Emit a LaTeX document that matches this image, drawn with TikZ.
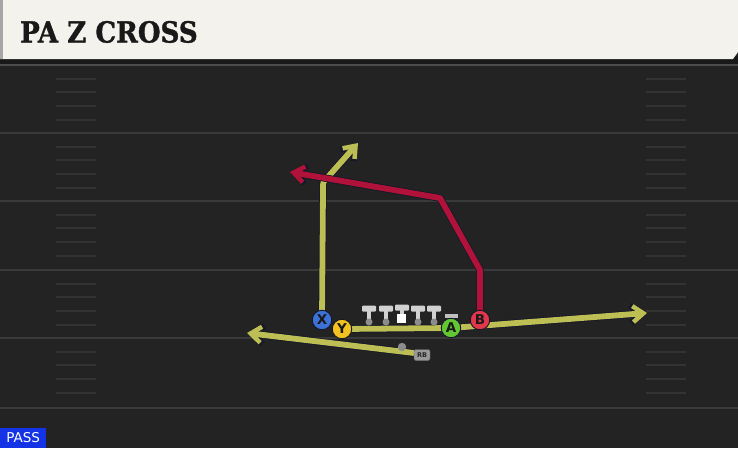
\documentclass[tikz,border=0pt]{standalone}
\usepackage{fontspec}
\setmainfont{DejaVu Sans}
\newfontfamily\titlefont[FakeStretch=0.9,FakeBold=1.2]{DejaVu Serif}
\usetikzlibrary{arrows.meta}
\definecolor{bgc}{HTML}{232323}
\definecolor{yardc}{HTML}{3A3A3A}
\definecolor{hashc}{HTML}{333333}
\definecolor{hdrc}{HTML}{F4F2EC}
\definecolor{routey}{HTML}{BDBF55}
\definecolor{router}{HTML}{B0123A}
\definecolor{outl}{HTML}{141828}
\definecolor{pblue}{HTML}{3C72D8}
\definecolor{pyel}{HTML}{F2C21E}
\definecolor{pgreen}{HTML}{62C733}
\definecolor{pred}{HTML}{E2374A}
\definecolor{passc}{HTML}{1432E6}
\tikzset{
  yard/.style={draw=yardc, line width=2pt},
  hashm/.style={draw=hashc, line width=1.8pt},
  routeout/.style={draw=outl, line width=7.4pt, line join=round, -{Straight Barb[length=11.5pt,width=18pt,line width=6pt]}},
  yroute/.style={draw=routey, line width=5.8pt, line join=round, -{Straight Barb[length=10.5pt,width=16pt,line width=4.5pt]}},
  rroute/.style={draw=router, line width=5.8pt, line join=round, -{Straight Barb[length=10.5pt,width=16pt,line width=4.5pt]}},
  player/.style={circle, draw=outl, line width=0.9pt, minimum size=19.5pt, inner sep=0pt, font=\fontsize{13.5}{13.5}\selectfont\bfseries, text=black!90},
  tbar/.style={fill=black!18, rounded corners=1pt},
}
\begin{document}
\begin{tikzpicture}[x=1pt,y=-1pt]
\useasboundingbox (0,0) rectangle (738,448);
\fill[bgc] (0,0) rectangle (738,448);
% header
\fill[black!90] (0,56) rectangle (738,64);
\fill[hdrc] (0,0) -- (738,0) -- (738,52) -- (733,59) -- (0,59) -- cycle;
\fill[black!35] (0,0) rectangle (3,59);
\node[anchor=base west, inner sep=0pt, font=\titlefont\bfseries\fontsize{29}{29}\selectfont, text=black!90] (title) at (20,42.5) {PA Z CROSS};
% yard lines
\foreach \yy in {133,201,270,338,408} { \draw[yard] (0,\yy) -- (738,\yy); }
\draw[draw=black!70, line width=2pt] (0,65) -- (738,65);
% hash marks
\foreach \yy in {65,133,201,270,338} {
  \foreach \k in {1,2,3,4} {
    \draw[hashm] (56,\yy+\k*13.65) -- (96,\yy+\k*13.65);
    \draw[hashm] (646,\yy+\k*13.65) -- (686,\yy+\k*13.65);
  }
}
% PASS
\node[fill=passc, text=white, anchor=south west, inner sep=0pt, minimum width=46pt, minimum height=20pt, font=\fontsize{13.5}{13.5}\selectfont] (pass) at (0,448) {PASS};
% coordinates
\coordinate (xpos) at (322,320);
\coordinate (ypos) at (342,329);
\coordinate (apos) at (451,328);
\coordinate (bpos) at (480,320);
\coordinate (rbpos) at (414,353);
\coordinate (xc1) at (323,188);
\coordinate (xc2) at (327,178);
\coordinate (xend) at (358,143);
\coordinate (yend) at (647,313);
\coordinate (b1) at (480,270);
\coordinate (b2) at (440,198);
\coordinate (bend) at (290,172);
\coordinate (rbend) at (247,333);
% routes outline
\draw[routeout] (ypos) -- (apos) -- (yend);
\draw[routeout] (rbpos) -- (rbend);
\draw[routeout] (xpos) -- (xc1) .. controls (323,182) .. (xc2) -- (xend);
% routes
\draw[yroute] (ypos) -- (apos) -- (yend);
\draw[yroute] (rbpos) -- (rbend);
\draw[yroute] (xpos) -- (xc1) .. controls (323,182) .. (xc2) -- (xend);
\draw[routeout] (bpos) -- (b1) -- (b2) -- (bend);
\draw[rroute] (bpos) -- (b1) -- (b2) -- (bend);
% linemen
\foreach \lx in {369,386,418,434} {
  \fill[black!18] (\lx-2.4,309) rectangle (\lx+2.4,321);
  \fill[tbar] (\lx-7,305.5) rectangle (\lx+7,311.5);
  \fill[black!45] (\lx,322) circle (3.5);
}
\fill[black!18] (399.6,309) rectangle (404.4,316);
\fill[tbar] (395,304.5) rectangle (409,310.5);
\fill[white] (397,314) rectangle (406,323);
\fill[black!25] (445,314) rectangle (458,318);
% RB
\fill[black!45] (402,347) circle (4.2);
\node[fill=black!40, draw=black!60, rounded corners=2pt, inner sep=0pt, minimum width=16pt, minimum height=11pt, font=\fontsize{6.5}{6.5}\selectfont\bfseries, text=black!85] (rb) at (422,355) {RB};
% players
\node[player, fill=pblue] (x) at (xpos) {X};
\node[player, fill=pyel] (y) at (ypos) {Y};
\node[player, fill=pgreen] (a) at (apos) {A};
\node[player, fill=pred] (b) at (bpos) {B};
\end{tikzpicture}
\end{document}
